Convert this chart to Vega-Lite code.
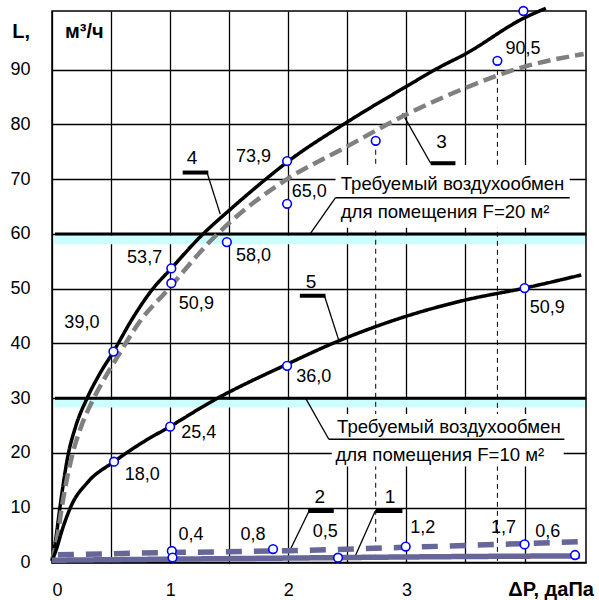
{
  "$schema": "https://vega.github.io/schema/vega-lite/v6.json",
  "width": 534,
  "height": 552,
  "autosize": "none",
  "padding": {"left": 52, "top": 11, "right": 13, "bottom": 37},
  "background": "white",
  "config": {
    "font": "Liberation Sans",
    "view": {"stroke": "black", "strokeWidth": 1.5},
    "axis": {"domain": false, "ticks": false, "tickSize": 0, "grid": true, "gridColor": "#000000", "gridWidth": 1.3, "gridOpacity": 1, "labelFontSize": 18, "labelColor": "#000000", "labelFont": "Liberation Sans", "labelOverlap": false, "title": null}
  },
  "datasets": {
    "curves": [
      {"s": "4", "x": 0, "y": 0.3}, {"s": "4", "x": 0.03, "y": 4}, {"s": "4", "x": 0.07, "y": 10.5}, {"s": "4", "x": 0.135, "y": 19.5}, {"s": "4", "x": 0.2, "y": 24.8}, {"s": "4", "x": 0.295, "y": 29.9}, {"s": "4", "x": 0.4, "y": 34.3}, {"s": "4", "x": 0.52, "y": 38.5}, {"s": "4", "x": 0.68, "y": 44.5}, {"s": "4", "x": 0.84, "y": 49.6}, {"s": "4", "x": 1.01, "y": 53.7}, {"s": "4", "x": 1.27, "y": 59.8}, {"s": "4", "x": 1.5, "y": 64.3}, {"s": "4", "x": 1.81, "y": 70.0}, {"s": "4", "x": 1.99, "y": 73.1}, {"s": "4", "x": 2.475, "y": 80.1}, {"s": "4", "x": 2.99, "y": 86.8}, {"s": "4", "x": 3.286, "y": 90.5}, {"s": "4", "x": 3.494, "y": 92.8}, {"s": "4", "x": 3.994, "y": 99.4}, {"s": "4", "x": 4.18, "y": 101.2},
      {"s": "3", "x": 0, "y": 0.3}, {"s": "3", "x": 0.04, "y": 4}, {"s": "3", "x": 0.09, "y": 11}, {"s": "3", "x": 0.17, "y": 19.5}, {"s": "3", "x": 0.25, "y": 25}, {"s": "3", "x": 0.347, "y": 29.7}, {"s": "3", "x": 0.45, "y": 33.8}, {"s": "3", "x": 0.547, "y": 37.3}, {"s": "3", "x": 0.75, "y": 44.2}, {"s": "3", "x": 0.98, "y": 49.8}, {"s": "3", "x": 1.337, "y": 58.6}, {"s": "3", "x": 1.5, "y": 62.0}, {"s": "3", "x": 1.99, "y": 70.0}, {"s": "3", "x": 2.475, "y": 75.7}, {"s": "3", "x": 2.99, "y": 81.7}, {"s": "3", "x": 3.494, "y": 86.6}, {"s": "3", "x": 3.994, "y": 90.5}, {"s": "3", "x": 4.5, "y": 92.85},
      {"s": "5", "x": 0, "y": 0.3}, {"s": "5", "x": 0.04, "y": 2.6}, {"s": "5", "x": 0.09, "y": 6.2}, {"s": "5", "x": 0.166, "y": 10.5}, {"s": "5", "x": 0.3, "y": 14.6}, {"s": "5", "x": 0.525, "y": 18.4}, {"s": "5", "x": 0.75, "y": 21.7}, {"s": "5", "x": 0.997, "y": 24.8}, {"s": "5", "x": 1.36, "y": 29.5}, {"s": "5", "x": 1.99, "y": 36.2}, {"s": "5", "x": 2.387, "y": 40.1}, {"s": "5", "x": 2.99, "y": 44.9}, {"s": "5", "x": 3.494, "y": 47.9}, {"s": "5", "x": 4.0, "y": 50.1}, {"s": "5", "x": 4.48, "y": 52.5},
      {"s": "1", "x": 0, "y": 0.4}, {"s": "1", "x": 1, "y": 0.6}, {"s": "1", "x": 2, "y": 0.8}, {"s": "1", "x": 3, "y": 1.0}, {"s": "1", "x": 4, "y": 1.15}, {"s": "1", "x": 4.47, "y": 1.2},
      {"s": "2", "x": 0.05, "y": 1.4}, {"s": "2", "x": 1, "y": 1.8}, {"s": "2", "x": 2, "y": 2.15}, {"s": "2", "x": 3, "y": 2.76}, {"s": "2", "x": 4.48, "y": 3.8}
    ],
    "pts": [
      {"x": 0.52, "y": 38.5}, {"x": 1.01, "y": 53.7}, {"x": 1.01, "y": 51.0}, {"x": 1.48, "y": 58.5}, {"x": 1.99, "y": 73.3}, {"x": 1.99, "y": 65.5}, {"x": 2.74, "y": 77.0}, {"x": 3.77, "y": 91.6}, {"x": 3.99, "y": 100.7},
      {"x": 1.99, "y": 35.9}, {"x": 4.0, "y": 50.1}, {"x": 1.0, "y": 24.8}, {"x": 0.525, "y": 18.4},
      {"x": 1.014, "y": 2.1}, {"x": 1.02, "y": 0.9}, {"x": 1.871, "y": 2.45}, {"x": 2.421, "y": 0.86}, {"x": 2.994, "y": 2.9}, {"x": 4.0, "y": 3.3}, {"x": 4.427, "y": 1.36}
    ],
    "lbl": [
      {"t": "39,0", "x": 0.253, "y": 43.7}, {"t": "53,7", "x": 0.784, "y": 55.6}, {"t": "50,9", "x": 1.222, "y": 47.2}, {"t": "58,0", "x": 1.706, "y": 56.0}, {"t": "73,9", "x": 1.706, "y": 74.0}, {"t": "65,0", "x": 2.178, "y": 67.6}, {"t": "90,5", "x": 3.986, "y": 93.8},
      {"t": "36,0", "x": 2.216, "y": 33.9}, {"t": "50,9", "x": 4.192, "y": 46.5}, {"t": "25,4", "x": 1.243, "y": 23.6}, {"t": "18,0", "x": 0.763, "y": 16.0},
      {"t": "0,4", "x": 1.176, "y": 5.0}, {"t": "0,8", "x": 1.702, "y": 5.0}, {"t": "0,5", "x": 2.313, "y": 5.6}, {"t": "1,2", "x": 3.139, "y": 6.3}, {"t": "1,7", "x": 3.822, "y": 6.3}, {"t": "0,6", "x": 4.197, "y": 5.6}
    ],
    "num": [
      {"t": "4", "x": 1.185, "y": 73.8}, {"t": "3", "x": 3.297, "y": 76.8}, {"t": "5", "x": 2.193, "y": 51.3}, {"t": "2", "x": 2.267, "y": 12.0}, {"t": "1", "x": 2.862, "y": 12.0}
    ],
    "ttl": [
      {"t": "L,", "x": -0.261, "y": 96.9}, {"t": "м³/ч", "x": 0.274, "y": 96.9}
    ],
    "xt": [
      {"t": "ΔP, даПа", "x": 4.225, "y": -5.03}
    ],
    "boxtxt": [
      {"t": "Требуемый воздухообмен", "x": 2.444, "y": 69.1}, {"t": "для помещения F=20 м²", "x": 2.444, "y": 64.0},
      {"t": "Требуемый воздухообмен", "x": 2.413, "y": 24.7}, {"t": "для помещения F=10 м²", "x": 2.399, "y": 19.6}
    ],
    "bands": [
      {"x": 0.02, "x2": 4.51, "y": 58.1, "y2": 59.7}, {"x": 0.02, "x2": 4.51, "y": 28.3, "y2": 29.7}
    ],
    "hl": [
      {"x": 0.025, "x2": 4.52, "y": 60, "y2": 60}, {"x": 0.025, "x2": 4.52, "y": 30, "y2": 30}
    ],
    "vd": [
      {"x": 2.74, "x2": 2.74, "y": 77.0, "y2": -0.1}, {"x": 3.77, "x2": 3.77, "y": 91.6, "y2": -0.1}
    ],
    "boxes": [
      {"x": 2.40, "x2": 4.382, "y": 72.6, "y2": 61.1}, {"x": 2.368, "x2": 4.331, "y": 27.1, "y2": 17.5}
    ],
    "thin": [
      {"x": 2.40, "x2": 4.382, "y": 66.6, "y2": 66.6}, {"x": 2.40, "x2": 2.188, "y": 66.6, "y2": 60.1},
      {"x": 2.343, "x2": 4.337, "y": 22.5, "y2": 22.5}, {"x": 2.343, "x2": 2.146, "y": 22.5, "y2": 30.0},
      {"x": 1.312, "x2": 1.424, "y": 71.2, "y2": 63.6}, {"x": 3.205, "x2": 2.966, "y": 72.9, "y2": 82.0},
      {"x": 2.306, "x2": 2.427, "y": 48.7, "y2": 40.6}, {"x": 2.176, "x2": 2.011, "y": 9.4, "y2": 2.1},
      {"x": 2.736, "x2": 2.562, "y": 9.4, "y2": 0.94}
    ],
    "bars": [
      {"x": 1.106, "x2": 1.323, "y": 71.2, "y2": 71.2}, {"x": 3.205, "x2": 3.415, "y": 72.9, "y2": 72.9}, {"x": 2.098, "x2": 2.315, "y": 48.7, "y2": 48.7}, {"x": 2.168, "x2": 2.385, "y": 9.4, "y2": 9.4}, {"x": 2.741, "x2": 2.966, "y": 9.4, "y2": 9.4}
    ]
  },
  "encoding": {
    "x": {"field": "x", "type": "quantitative", "scale": {"domain": [0, 4.52], "nice": false, "zero": false},
      "axis": {"values": [0, 0.5, 1, 1.5, 2, 2.5, 3, 3.5, 4], "labelExpr": "datum.value % 1 == 0 && datum.value < 4 ? '' + datum.value : ''", "labelPadding": 18}},
    "y": {"field": "y", "type": "quantitative", "scale": {"domain": [-0.1, 100.7], "nice": false, "zero": false},
      "axis": {"values": [0, 10, 20, 30, 40, 50, 60, 70, 80, 90], "labelExpr": "'' + datum.value", "labelPadding": 22, "labelBaseline": "middle"}}
  },
  "layer": [
    {"data": {"name": "bands"}, "mark": {"type": "rect", "color": "#ccffff"}, "encoding": {"x2": {"field": "x2"}, "y2": {"field": "y2"}}},
    {"data": {"name": "hl"}, "mark": {"type": "rule", "color": "#000000", "strokeWidth": 3}, "encoding": {"x2": {"field": "x2"}, "y2": {"field": "y2"}}},
    {"data": {"name": "vd"}, "mark": {"type": "rule", "color": "#000000", "strokeWidth": 1, "strokeDash": [5, 4]}, "encoding": {"x2": {"field": "x2"}, "y2": {"field": "y2"}}},
    {"data": {"name": "boxes"}, "mark": {"type": "rect", "color": "#ffffff"}, "encoding": {"x2": {"field": "x2"}, "y2": {"field": "y2"}}},
    {"data": {"name": "thin"}, "mark": {"type": "rule", "color": "#000000", "strokeWidth": 1.3}, "encoding": {"x2": {"field": "x2"}, "y2": {"field": "y2"}}},
    {"data": {"name": "bars"}, "mark": {"type": "rule", "color": "#000000", "strokeWidth": 4}, "encoding": {"x2": {"field": "x2"}, "y2": {"field": "y2"}}},
    {"data": {"name": "curves"}, "mark": {"type": "line", "interpolate": "monotone", "clip": false},
      "encoding": {
        "detail": {"field": "s"},
        "color": {"field": "s", "type": "nominal", "scale": {"domain": ["1", "2", "3", "4", "5"], "range": ["#666699", "#666699", "#808080", "#000000", "#000000"]}, "legend": null},
        "strokeDash": {"field": "s", "type": "nominal", "scale": {"domain": ["1", "2", "3", "4", "5"], "range": [[1, 0], [16, 12], [13, 6], [1, 0], [1, 0]]}, "legend": null},
        "strokeWidth": {"field": "s", "type": "nominal", "scale": {"type": "ordinal", "domain": ["1", "2", "3", "4", "5"], "range": [5.5, 5.5, 4.5, 3.5, 3.5]}, "legend": null}
      }},
    {"data": {"name": "pts"}, "mark": {"type": "point", "shape": "circle", "filled": false, "fill": "#ffffff", "fillOpacity": 1, "stroke": "#0000ff", "strokeWidth": 1.6, "size": 75, "opacity": 1}},
    {"data": {"name": "lbl"}, "mark": {"type": "text", "fontSize": 18, "color": "#000000", "align": "center", "baseline": "middle"}, "encoding": {"text": {"field": "t"}}},
    {"data": {"name": "num"}, "mark": {"type": "text", "fontSize": 19, "color": "#000000", "align": "center", "baseline": "middle"}, "encoding": {"text": {"field": "t"}}},
    {"data": {"name": "boxtxt"}, "mark": {"type": "text", "fontSize": 18.6, "color": "#000000", "align": "left", "baseline": "middle"}, "encoding": {"text": {"field": "t"}}},
    {"data": {"name": "ttl"}, "mark": {"type": "text", "fontSize": 20, "fontWeight": "bold", "color": "#000000", "align": "center", "baseline": "middle"}, "encoding": {"text": {"field": "t"}}},
    {"data": {"name": "xt"}, "mark": {"type": "text", "fontSize": 20, "fontWeight": "bold", "color": "#000000", "align": "center", "baseline": "middle"}, "encoding": {"text": {"field": "t"}}}
  ]
}
